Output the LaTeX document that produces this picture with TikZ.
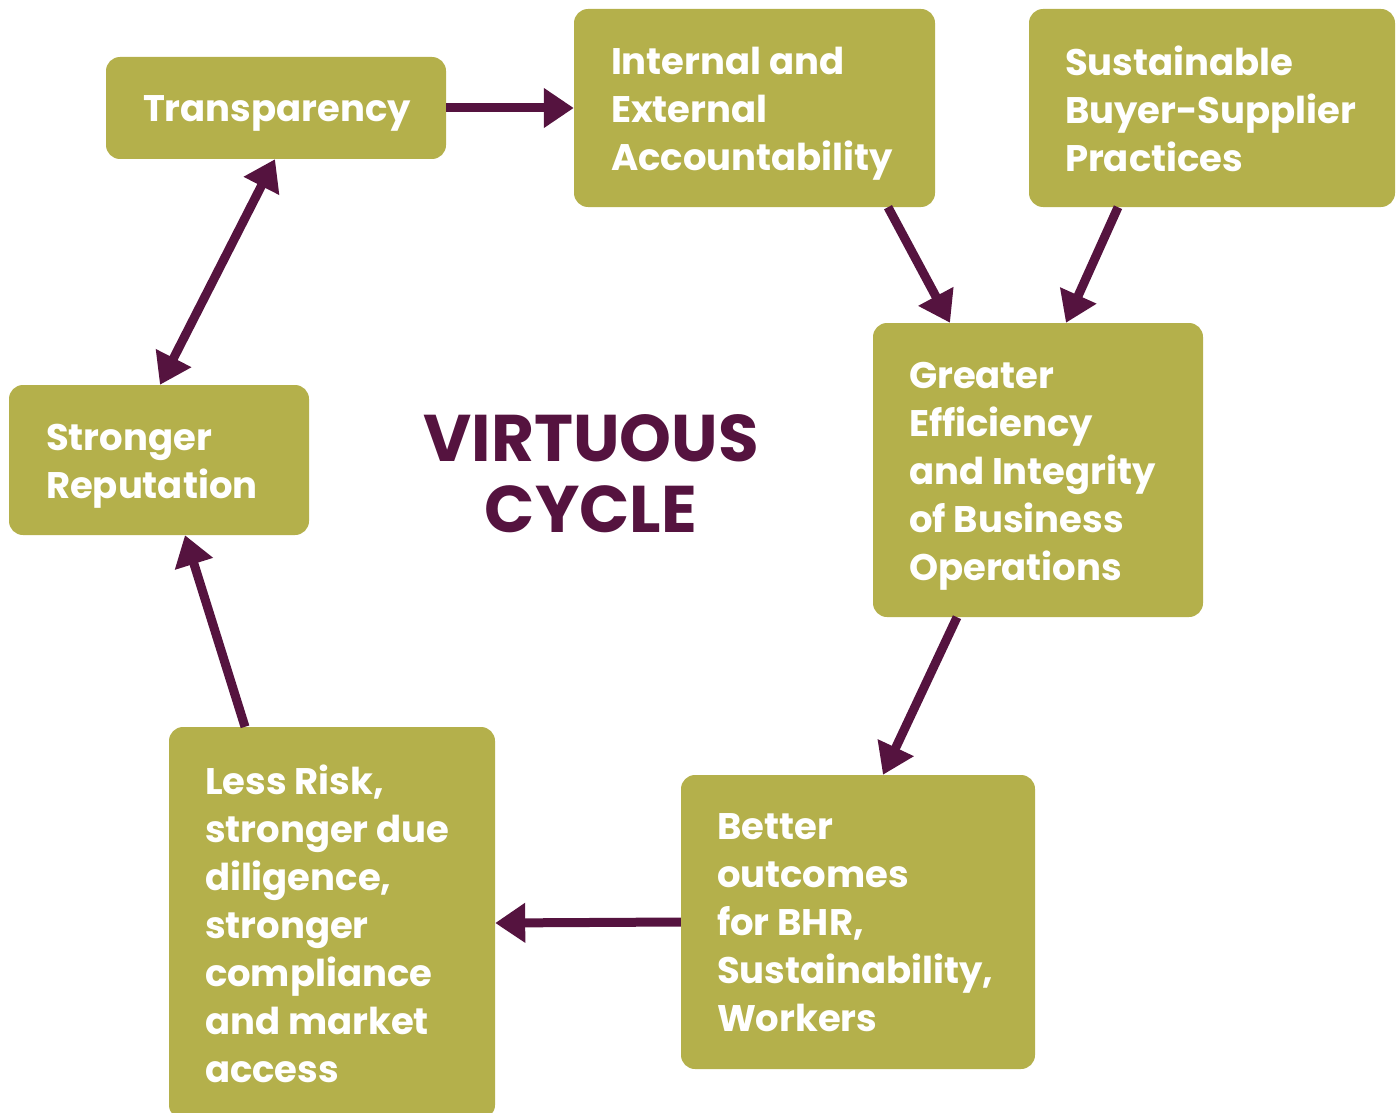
\documentclass[tikz,border=0pt]{standalone}
\usepackage{fontspec}
\setmainfont{Poppins}
\usetikzlibrary{arrows.meta}

\definecolor{olive}{HTML}{B4B04B}
\definecolor{plum}{HTML}{55133F}

\tikzset{
  stage/.style={fill=olive, rounded corners=14pt, inner sep=0pt},
  stagetext/.style={text=white, align=left, anchor=west, inner sep=0pt, text depth=0pt,
    font=\fontsize{37}{48}\selectfont\bfseries},
  flow/.style={draw=plum, line width=9pt, -{Triangle[length=30pt,width=38pt]}},
  twoway/.style={flow, {Triangle[length=30pt,width=38pt]}-{Triangle[length=30pt,width=38pt]}}
}

\begin{document}
\begin{tikzpicture}[x=1pt, y=-1pt]
\useasboundingbox (0,0) rectangle (1398,1113);

% boxes
\node[stage, minimum width=340pt, minimum height=102pt] (transp) at (276,108) {};
\node[stage, minimum width=361pt, minimum height=198pt] (account) at (754.5,108) {};
\node[stage, minimum width=366pt, minimum height=198pt] (buyer) at (1212,108) {};
\node[stage, minimum width=330pt, minimum height=294pt] (effic) at (1038,470) {};
\node[stage, minimum width=354pt, minimum height=294pt] (better) at (858,922) {};
\node[stage, minimum width=326pt, minimum height=392pt] (risk) at (332,923) {};
\node[stage, minimum width=300pt, minimum height=150pt] (reput) at (159,460) {};

% texts
\node[stagetext] (transp-t) at ([xshift=37pt,yshift=-1pt]transp.west) {Transparency};
\node[stagetext] (account-t) at ([xshift=37pt,yshift=-1pt]account.west) {Internal and\\External\\Accountability};
\node[stagetext] (buyer-t) at ([xshift=36pt,yshift=-1pt]buyer.west) {Sustainable\\Buyer-Supplier\\Practices};
\node[stagetext] (effic-t) at ([xshift=36pt,yshift=-1pt]effic.west) {Greater\\Efficiency\\and Integrity\\of Business\\Operations};
\node[stagetext] (better-t) at ([xshift=36pt,yshift=-1pt]better.west) {Better\\outcomes\\for BHR,\\Sustainability,\\Workers};
\node[stagetext] (risk-t) at ([xshift=36pt,yshift=-1pt]risk.west) {Less Risk,\\stronger due\\diligence,\\stronger\\compliance\\and market\\access};
\node[stagetext] (reput-t) at ([xshift=37pt,yshift=-1pt]reput.west) {Stronger\\Reputation};

\node[text=plum, align=center, font=\fontsize{66}{71}\selectfont\bfseries] (title) at (591,474) {VIRTUOUS\\CYCLE};

% arrows
\draw[flow] (transp.east) -- (account.west);
\draw[twoway] (reput.north -| 160,0) -- (transp.south -| 275,0);
\draw[flow] (account.south -| 888,0) -- (effic.north -| 950,0);
\draw[flow] (buyer.south -| 1118,0) -- (effic.north -| 1066,0);
\draw[flow] (effic.south -| 957,0) -- (better.north -| 883,0);
\draw[flow] (better.west) -- (risk.east);
\draw[flow] (risk.north -| 245,0) -- (reput.south -| 185,0);
\end{tikzpicture}
\end{document}
